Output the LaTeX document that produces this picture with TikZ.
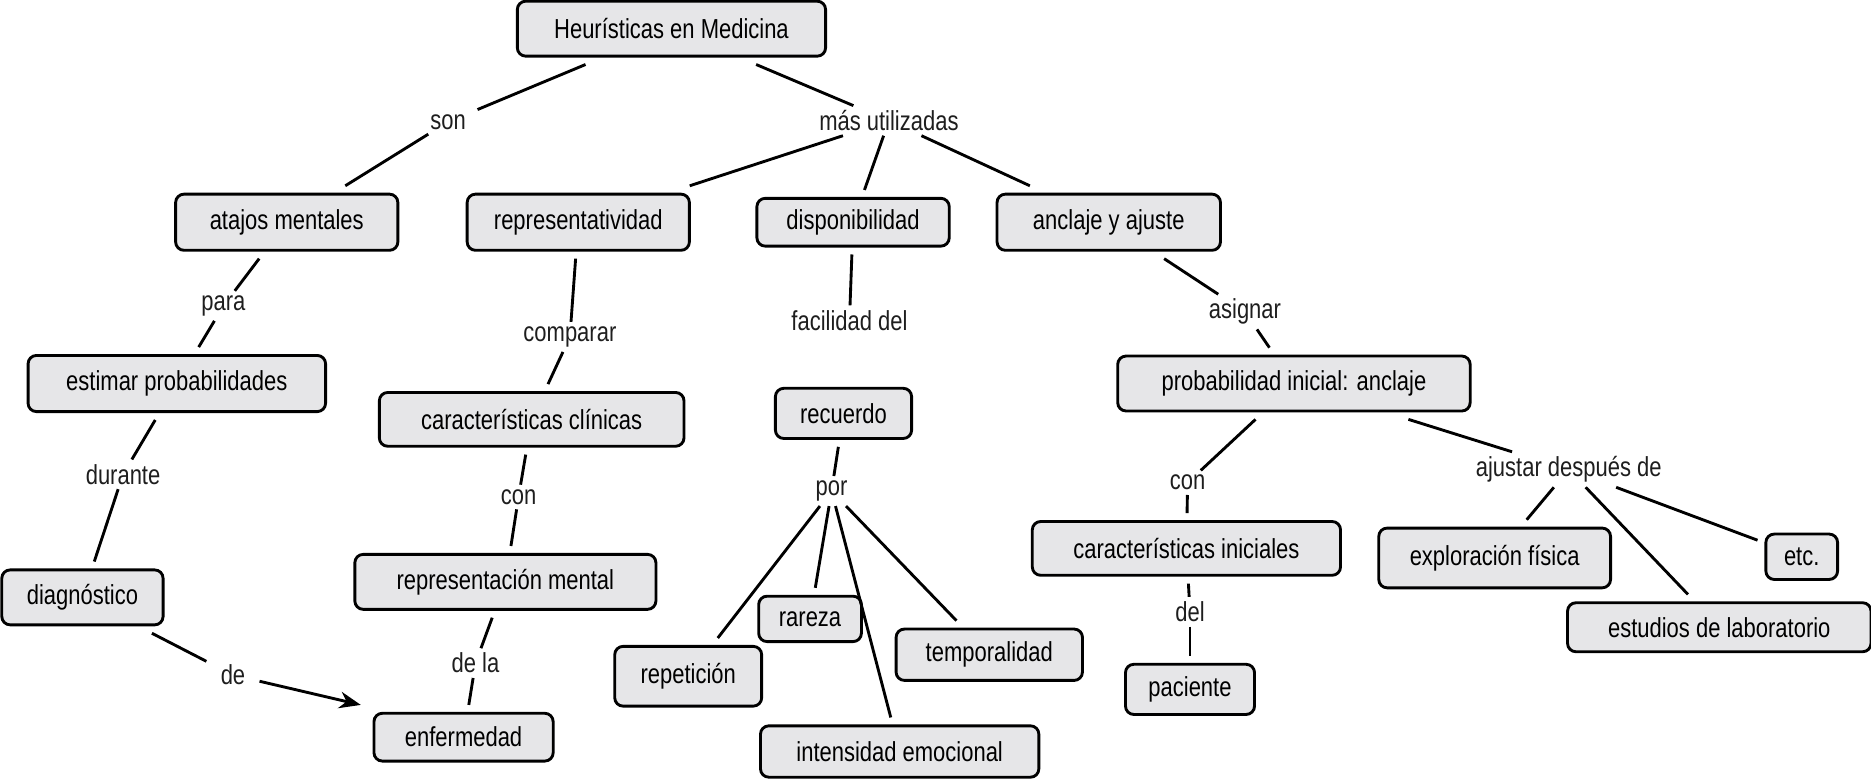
\documentclass[tikz,border=0pt]{standalone}
\usepackage{fontspec}
\setmainfont{Liberation Sans}[FakeStretch=0.8]
\usetikzlibrary{arrows.meta}
\definecolor{boxgray}{RGB}{230,230,232}
\definecolor{inkgray}{RGB}{30,30,30}
\begin{document}
\begin{tikzpicture}[x=0.5pt,y=-0.5pt,line width=1.2pt,
        font=\fontsize{11.5}{13}\selectfont,
        concept/.style n args={2}{draw,fill=boxgray,rounded corners=3.5pt,inner sep=2pt,
            outer sep=3.5pt,minimum width=#1,minimum height=#2},
        link/.style={text=inkgray,inner xsep=4pt,inner ysep=0pt,outer sep=2pt}]
        \useasboundingbox (0,0) rectangle (1566,652);
        % concepts
        \node[concept={129pt}{23pt}] (heur) at (562,24) {Heurísticas en Medicina};
        \node[concept={93pt}{23.5pt}] (atajos) at (240,186) {atajos mentales};
        \node[concept={93pt}{23.5pt}] (repr) at (484,186) {representatividad};
        \node[concept={80.5pt}{20pt}] (disp) at (714,186) {disponibilidad};
        \node[concept={93.5pt}{23.5pt}] (ancla) at (928,186) {anclaje y ajuste};
        \node[concept={124.5pt}{23.5pt}] (estimar) at (148,321) {estimar probabilidades};
        \node[concept={127.5pt}{22.5pt}] (clin) at (445,351) {características clínicas};
        \node[concept={57pt}{21pt}] (recuerdo) at (706,346) {recuerdo};
        \node[concept={147.5pt}{23pt}] (probini) at (1083,321) {probabilidad inicial: anclaje};
        \node[concept={67.5pt}{23pt}] (diag) at (69,500) {diagnóstico};
        \node[concept={126pt}{23pt}] (mental) at (423,487) {representación mental};
        \node[concept={129pt}{22.5pt}] (inic) at (993,459) {características iniciales};
        \node[concept={97pt}{25pt}] (explor) at (1251,467) {exploración física};
        \node[concept={30pt}{19pt}] (etc) at (1508,466) {etc.};
        \node[concept={127pt}{20.5pt}] (estudios) at (1439,525) {estudios de laboratorio};
        \node[concept={75pt}{20pt}] (enf) at (388,617) {enfermedad};
        \node[concept={43pt}{19pt}] (rareza) at (678,518) {rareza};
        \node[concept={61.5pt}{25pt}] (repet) at (576,566) {repetición};
        \node[concept={78pt}{21.5pt}] (temporal) at (828,548) {temporalidad};
        \node[concept={116.5pt}{21.5pt}] (intens) at (753,629) {intensidad emocional};
        \node[concept={54pt}{21pt}] (paciente) at (996,577) {paciente};
        % linking words
        \node[link] (son) at (375,102) {son};
        \node[link] (mas) at (744,101) {más utilizadas};
        \node[link] (para) at (187,256) {para};
        \node[link] (comparar) at (477,282) {comparar};
        \node[link] (facil) at (711,268) {facilidad del};
        \node[link] (asignar) at (1042,261) {asignar};
        \node[link] (durante) at (103,397) {durante};
        \node[link] (con1) at (434,416) {con};
        \node[link] (por) at (696,411) {por};
        \node[link] (con2) at (994,404) {con};
        \node[link] (ajustar) at (1313,393) {ajustar después de};
        \node[link] (del) at (996,512) {del};
        \node[link] (dela) at (398,555) {de la};
        \node[link] (de) at (195,565) {de};
        % connectors
        \foreach \a/\b in {heur/son,son/atajos,heur/mas,mas/repr,mas/disp,mas/ancla,
                atajos/para,para/estimar,estimar/durante,durante/diag,diag/de,
                repr/comparar,comparar/clin,clin/con1,con1/mental,mental/dela,dela/enf,
                disp/facil,recuerdo/por,por/repet,por/rareza,por/intens,por/temporal,
                ancla/asignar,asignar/probini,probini/con2,con2/inic,inic/del,del/paciente,
                probini/ajustar,ajustar/explor,ajustar/estudios,ajustar/etc}
            \draw (\a) -- (\b);
        \draw[-{Stealth[length=9pt,width=7pt]}] (de) -- ([xshift=-2pt]enf.north west);
    \end{tikzpicture}
\end{document}
